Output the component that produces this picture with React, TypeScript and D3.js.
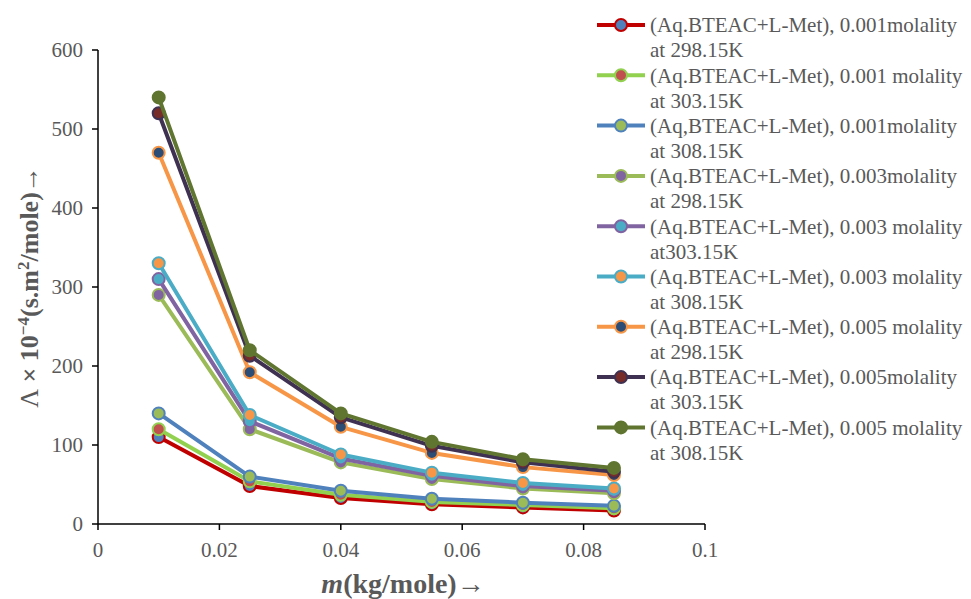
import React from "react";
import * as d3 from "d3";

// Molality of L-Met (kg/mole) at which conductance was measured
const molality = [0.01, 0.025, 0.04, 0.055, 0.07, 0.085];

// Molar conductance Λ × 10⁻⁴ (s.m²/mole) for each BTEAC concentration and temperature
const s001_298 = [110, 48, 33, 25, 21, 17];
const s001_303 = [120, 54, 37, 28, 24, 20];
const s001_308 = [140, 60, 42, 32, 27, 23];
const s003_298 = [290, 120, 78, 57, 45, 39];
const s003_303 = [310, 130, 83, 61, 48, 42];
const s003_308 = [330, 138, 88, 65, 52, 45];
const s005_298 = [470, 192, 123, 90, 72, 62];
const s005_303 = [520, 213, 135, 99, 78, 66];
const s005_308 = [540, 220, 140, 104, 82, 71];

const seriesLabels = [
  ["(Aq.BTEAC+L-Met), 0.001molality", "at 298.15K"],
  ["(Aq.BTEAC+L-Met), 0.001 molality", "at 303.15K"],
  ["(Aq,BTEAC+L-Met), 0.001molality", "at 308.15K"],
  ["(Aq.BTEAC+L-Met), 0.003molality", "at 298.15K"],
  ["(Aq.BTEAC+L-Met), 0.003 molality", "at303.15K"],
  ["(Aq.BTEAC+L-Met), 0.003 molality", "at 308.15K"],
  ["(Aq.BTEAC+L-Met), 0.005 molality", "at 298.15K"],
  ["(Aq.BTEAC+L-Met), 0.005molality", "at 303.15K"],
  ["(Aq.BTEAC+L-Met), 0.005 molality", "at 308.15K"],
];

const xTicks = [0, 0.02, 0.04, 0.06, 0.08, 0.1];
const yTicks = [0, 100, 200, 300, 400, 500, 600];

const seriesValues = [
  s001_298, s001_303, s001_308,
  s003_298, s003_303, s003_308,
  s005_298, s005_303, s005_308,
];

// line colour, marker fill
const styles = [
  { line: "#C00000", fill: "#4F81BD" },
  { line: "#92D050", fill: "#C0504D" },
  { line: "#4F81BD", fill: "#9BBB59" },
  { line: "#9BBB59", fill: "#8064A2" },
  { line: "#8064A2", fill: "#4BACC6" },
  { line: "#4BACC6", fill: "#F79646" },
  { line: "#F79646", fill: "#2C4D75" },
  { line: "#3F3151", fill: "#772C2A" },
  { line: "#5F7530", fill: "#5F7530" },
];

const W = 971;
const H = 599;
const plot = { left: 98, right: 705, top: 50, bottom: 524 };
const font = "'Liberation Serif', 'DejaVu Serif', serif";
const gray = "#595959";

export default function App() {
  const x = d3.scaleLinear().domain([0, 0.1]).range([plot.left, plot.right]);
  const y = d3.scaleLinear().domain([0, 600]).range([plot.bottom, plot.top]);
  const line = d3
    .line<number>()
    .x((_, i) => x(molality[i]))
    .y((v) => y(v));

  const legendX = 597;
  const legendY0 = 25;
  const legendStep = 50.3;

  return (
    <svg
      width={W}
      height={H}
      style={{ position: "absolute", left: 0, top: 0, background: "#fff", fontFamily: font }}
    >
      {/* axes */}
      <line x1={plot.left} x2={plot.left} y1={plot.top} y2={plot.bottom} stroke="#000" strokeWidth={1.5} />
      <line x1={plot.left} x2={plot.right} y1={plot.bottom} y2={plot.bottom} stroke="#000" strokeWidth={1.5} />
      {yTicks.map((t) => (
        <g key={"y" + t}>
          <line x1={plot.left - 6} x2={plot.left} y1={y(t)} y2={y(t)} stroke="#000" strokeWidth={1.5} />
          <text x={plot.left - 15} y={y(t)} dy="0.35em" textAnchor="end" fontSize={21} fill={gray}>
            {t}
          </text>
        </g>
      ))}
      {xTicks.map((t) => (
        <g key={"x" + t}>
          <line x1={x(t)} x2={x(t)} y1={plot.bottom} y2={plot.bottom + 6} stroke="#000" strokeWidth={1.5} />
          <text x={x(t)} y={plot.bottom + 26} dy="0.35em" textAnchor="middle" fontSize={21} fill={gray}>
            {String(t)}
          </text>
        </g>
      ))}

      {/* axis titles */}
      <text x={403} y={593} textAnchor="middle" fontSize={28} fontWeight="bold" fill={gray}>
        <tspan fontStyle="italic">m</tspan>(kg/mole)→
      </text>
      <text
        transform={`translate(38,287) rotate(-90)`}
        textAnchor="middle"
        fontSize={26}
        fontWeight="bold"
        fill={gray}
      >
        <tspan fontWeight="normal">Λ</tspan> × 10
        <tspan dy={-9} fontSize={17}>−4</tspan>
        <tspan dy={9}>(s.m</tspan>
        <tspan dy={-9} fontSize={17}>2</tspan>
        <tspan dy={9}>/mole)→</tspan>
      </text>

      {/* series */}
      {seriesValues.map((vals, si) => (
        <g key={"s" + si}>
          <path d={line(vals) || ""} fill="none" stroke={styles[si].line} strokeWidth={4} strokeLinejoin="round" />
          {vals.map((v, i) => (
            <circle
              key={i}
              cx={x(molality[i])}
              cy={y(v)}
              r={6}
              fill={styles[si].fill}
              stroke={styles[si].line}
              strokeWidth={2}
            />
          ))}
        </g>
      ))}

      {/* legend */}
      {seriesLabels.map((lab, si) => {
        const ly = legendY0 + si * legendStep;
        return (
          <g key={"l" + si}>
            <line x1={legendX} x2={legendX + 48} y1={ly} y2={ly} stroke={styles[si].line} strokeWidth={4} />
            <circle cx={legendX + 24} cy={ly} r={6} fill={styles[si].fill} stroke={styles[si].line} strokeWidth={2} />
            <text x={legendX + 53} y={ly} dy="0.35em" fontSize={21} fill={gray}>
              {lab[0]}
            </text>
            <text x={legendX + 53} y={ly + 25} dy="0.35em" fontSize={21} fill={gray}>
              {lab[1]}
            </text>
          </g>
        );
      })}
    </svg>
  );
}
